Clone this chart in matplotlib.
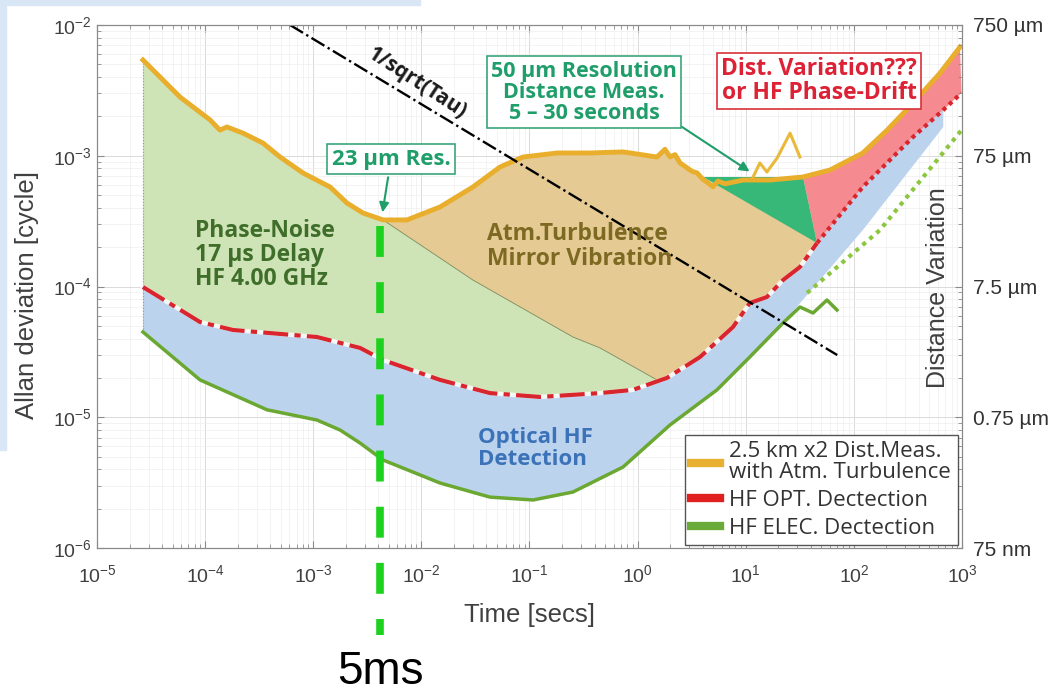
import numpy as np
import matplotlib
matplotlib.use("Agg")
import matplotlib.pyplot as plt
from matplotlib.lines import Line2D
from matplotlib.patches import Rectangle

plt.rcParams['font.family'] = ['Liberation Sans', 'DejaVu Sans']
plt.rcParams['mathtext.fontset'] = 'custom'
plt.rcParams['mathtext.rm'] = 'Liberation Sans'
plt.rcParams['mathtext.it'] = 'Liberation Sans:italic'
plt.rcParams['mathtext.bf'] = 'Liberation Sans:bold'

# 2.5 km x2 distance measurement with atmospheric turbulence (yellow)
atm_t = [2.66e-5, 4.07e-5, 5.86e-5, 8.41e-5, 1.11e-4, 1.37e-4, 1.59e-4, 2.24e-4, 3.43e-4,
         4.93e-4, 8.04e-4, 1.43e-3, 2.05e-3, 2.88e-3, 4.42e-3, 7.36e-3, 1.49e-2, 3.00e-2,
         5.33e-2, 8.71e-2, 0.180, 0.363, 0.732, 1.51, 1.79, 1.99, 2.22, 2.47, 2.74, 3.18,
         3.54, 4.02, 4.48, 4.98, 5.54, 6.43, 9.44, 16.8, 33.8, 60.2, 121, 203, 352, 626, 958]
atm_v = [5.40e-3, 3.80e-3, 2.81e-3, 2.24e-3, 1.88e-3, 1.57e-3, 1.66e-3, 1.49e-3, 1.25e-3,
         9.78e-4, 7.38e-4, 5.77e-4, 4.35e-4, 3.65e-4, 3.23e-4, 3.23e-4, 4.06e-4, 5.77e-4,
         8.20e-4, 9.78e-4, 1.05e-3, 1.05e-3, 1.07e-3, 9.78e-4, 1.12e-3, 9.80e-4, 1.02e-3,
         8.80e-4, 8.30e-4, 7.60e-4, 7.40e-4, 6.60e-4, 6.20e-4, 5.80e-4, 6.40e-4, 6.10e-4,
         6.52e-4, 6.52e-4, 6.88e-4, 7.78e-4, 1.05e-3, 1.57e-3, 2.53e-3, 4.29e-3, 6.79e-3]
# second (spiky) yellow trace
spike_t = [11.7, 13.5, 15.7, 19.5, 25.7, 31.7]
spike_v = [6.88e-4, 8.81e-4, 7.51e-4, 9.61e-4, 1.49e-3, 9.78e-4]

# HF optical detection (red)
opt_t = [2.66e-5, 8.97e-5, 1.81e-4, 1.08e-3, 2.71e-3, 4.42e-3, 1.49e-2, 4.31e-2, 0.125,
         0.449, 0.906, 1.87, 3.78, 7.62, 10.9, 15.7, 22.1, 31.7, 45.6, 121, 352, 671, 990]
opt_v = [9.91e-5, 5.35e-5, 4.65e-5, 4.11e-5, 3.39e-5, 2.74e-5, 1.93e-5, 1.53e-5, 1.43e-5,
         1.53e-5, 1.62e-5, 2.00e-5, 2.89e-5, 4.90e-5, 7.48e-5, 8.31e-5, 1.12e-4, 1.41e-4,
         2.15e-4, 5.77e-4, 1.39e-3, 2.24e-3, 3.02e-3]

# HF electrical detection (green)
elec_t = [2.66e-5, 8.97e-5, 3.74e-4, 1.08e-3, 1.77e-3, 2.71e-3, 4.42e-3, 1.49e-2, 4.31e-2,
          0.108, 0.252, 0.732, 1.99, 5.42, 10.9, 22.1, 31.7, 41.9, 56.4, 69.8]
elec_v = [4.49e-5, 1.93e-5, 1.14e-5, 9.53e-6, 7.99e-6, 6.35e-6, 4.71e-6, 3.14e-6, 2.45e-6,
          2.33e-6, 2.68e-6, 4.16e-6, 8.72e-6, 1.62e-5, 2.89e-5, 5.26e-5, 6.97e-5, 6.27e-5,
          7.88e-5, 6.61e-5]
elec_fit_t = [36.9, 174, 990]
elec_fit_v = [8.92e-5, 2.70e-4, 1.57e-3]

# lower edge of the blue band after the green curve ends
blue_edge_t = [22.1, 121, 671]
blue_edge_v = [5.26e-5, 2.70e-4, 1.66e-3]

# phase-noise extrapolation (green / tan boundary)
noise_t = [4.42e-3, 3.00e-2, 0.252, 0.449, 1.51]
noise_v = [3.23e-4, 1.12e-4, 4.11e-5, 3.39e-5, 1.93e-5]

# 50 um resolution wedge
tri_t = [4.02, 33.8, 45.6]
tri_v = [6.88e-4, 6.88e-4, 2.15e-4]

# 1/sqrt(Tau) reference
sqrt_t = [6.10e-4, 70.2]
sqrt_v = [1e-2, 2.99e-5]

# 5 ms marker
mark_t = [4.15e-3, 4.15e-3]
mark_v = [2.9e-4, 2.16e-7]

right_ticks = [1e-6, 1e-5, 1e-4, 1e-3, 1e-2]
right_labels = ['75 nm', '0.75 µm', '7.5 µm', '75 µm', '750 µm']

at, av = np.array(atm_t), np.array(atm_v)
ot, ov = np.array(opt_t), np.array(opt_v)
et, ev = np.array(elec_t), np.array(elec_v)
nt, nv = np.array(noise_t), np.array(noise_v)
bt, bv = np.array(blue_edge_t), np.array(blue_edge_v)

fig = plt.figure(figsize=(10.56, 6.97), dpi=100)
fig.patches.append(Rectangle((0, 1 - 450 / 697), 6 / 1056, 450 / 697, transform=fig.transFigure,
                             color='#d8e6f5', zorder=0))
fig.patches.append(Rectangle((0, 1 - 5 / 697), 420 / 1056, 5 / 697, transform=fig.transFigure,
                             color='#d8e6f5', zorder=0))

ax = fig.add_axes([97 / 1056, 1 - 548 / 697, 865 / 1056, 523 / 697])
ax.set_xscale('log')
ax.set_yscale('log')
ax.set_xlim(1e-5, 1e3)
ax.set_ylim(1e-6, 1e-2)
ax.set_axisbelow(True)
ax.grid(True, which='major', color='#dadada', lw=0.7)
ax.grid(True, which='minor', color='#eeeeee', lw=0.5)

# blue: optical HF detection band
m = ot <= 671
px = np.concatenate([ot[m], bt[::-1], et[et < 22][::-1]])
py = np.concatenate([ov[m], bv[::-1], ev[et < 22][::-1]])
ax.fill(px, py, color='#bcd3ee', lw=0, zorder=1)

# green: phase noise
px = np.concatenate([at[at <= 4.42e-3], nt[1:], ot[ot < 1.0][::-1]])
py = np.concatenate([av[at <= 4.42e-3], nv[1:], ov[ot < 1.0][::-1]])
ax.fill(px, py, color='#cee3b6', lw=0, zorder=1)

# tan: atmospheric turbulence
ma = (at >= 4.42e-3) & (at <= 33.8)
mo = (ot >= 1.8) & (ot <= 45.6)
px = np.concatenate([at[ma], ot[mo][::-1], nt[::-1]])
py = np.concatenate([av[ma], ov[mo][::-1], nv[::-1]])
ax.fill(px, py, color='#e5ca94', lw=0, zorder=1)

# pink: distance variation / phase drift
px = np.concatenate([at[at >= 33.8], ot[ot >= 45.6][::-1]])
py = np.concatenate([av[at >= 33.8], ov[ot >= 45.6][::-1]])
ax.fill(px, py, color='#f58b90', lw=0, zorder=1)

ax.fill(tri_t, tri_v, color='#38b878', lw=0, zorder=2)
ax.plot(noise_t, noise_v, color='#7b8a5a', lw=0.6, zorder=2)
ax.plot([et[0], et[0]], [ev[0], av[0]], ':', color='#999999', lw=0.8, zorder=2)

# red curve: dashed then dotted
md = ot <= 45.6
ax.plot(ot[md], ov[md], color='white', lw=3.2, alpha=0.8, zorder=3)
ax.plot(ot[md], ov[md], color='#d9262e', lw=3, dashes=(6, 1.5, 1.5, 1.5), zorder=3)
mr = ot >= 45.6
ax.plot(ot[mr], ov[mr], color='#d9262e', lw=3, dashes=(1, 1), zorder=3)

ax.plot(elec_t, elec_v, color='#6aa832', lw=2.5, zorder=3)
ax.plot(elec_fit_t, elec_fit_v, color='#8cc63f', lw=3, dashes=(1, 1.2), zorder=3)

ax.plot(atm_t, atm_v, color='#e9ae2b', lw=3.5, zorder=4)
ax.plot(spike_t, spike_v, color='#e9b93a', lw=2.2, zorder=4)

ax.plot(sqrt_t, sqrt_v, color='black', lw=1.7, ls='-.', zorder=5)
ax.plot(mark_t, mark_v, color='#1fd11f', lw=5.5, dashes=(4.05, 3.3), clip_on=False, zorder=6)

# annotations
teal = '#1f9e6a'
bold = dict(family='Open Sans', fontweight='bold')
ax.annotate('23 µm Res.', xy=(4.33e-3, 3.52e-4), xytext=(5.24e-3, 9.44e-4),
            ha='center', va='center', fontsize=16, color=teal, zorder=7,
            bbox=dict(boxstyle='square,pad=0.2', fc='white', ec='#3aa67a', lw=1.2),
            arrowprops=dict(arrowstyle='-|>', color=teal, lw=1.5, mutation_scale=14),
            **bold)
ax.annotate('50 µm Resolution\nDistance Meas.\n5 – 30 seconds', xy=(11.4, 7.38e-4),
            xytext=(0.319, 3.07e-3), ha='center', va='center', fontsize=15.5,
            color=teal, linespacing=1.0, zorder=7,
            bbox=dict(boxstyle='square,pad=0.2', fc='white', ec='#3aa67a', lw=1.2),
            arrowprops=dict(arrowstyle='-|>', color=teal, lw=1.5, mutation_scale=14,
                            relpos=(1, 0), shrinkA=0),
            **bold)
ax.text(47.6, 3.73e-3, 'Dist. Variation???\nor HF Phase-Drift', ha='center', va='center',
        fontsize=16.5, color='#dd2236', linespacing=0.95, zorder=7,
        bbox=dict(boxstyle='square,pad=0.2', fc='white', ec='#d8303a', lw=1.2), **bold)
ax.text(0.113, 0.560, 'Phase-Noise\n17 µs Delay\nHF 4.00 GHz', transform=ax.transAxes,
        ha='left', va='center', fontsize=16.5, color='#3f6e2a', linespacing=1.0, zorder=7,
        **bold)
ax.text(0.451, 0.576, 'Atm.Turbulence\nMirror Vibration', transform=ax.transAxes,
        ha='left', va='center', fontsize=16.5, color='#7d6a22', linespacing=1.05, zorder=7,
        **bold)
ax.text(0.440, 0.191, 'Optical HF\nDetection', transform=ax.transAxes,
        ha='left', va='center', fontsize=16, color='#3b72b8', linespacing=1.05, zorder=7,
        **bold)
ax.text(0.370, 0.889, '1/sqrt(Tau)', transform=ax.transAxes, ha='center', va='center',
        rotation=-33, fontsize=15, color='#1a1a1a', zorder=7, **bold)

for s in ax.spines.values():
    s.set_color('#8a8a8a')
ax.tick_params(which='both', direction='in', top=True, right=False, color='#8a8a8a',
               labelcolor='#404040', labelsize=14)
ax.tick_params(axis='x', pad=12)
ax.tick_params(which='major', length=5)
ax.tick_params(which='minor', length=3)

ax2 = ax.twinx()
ax2.set_yscale('log')
ax2.set_ylim(1e-6, 1e-2)
ax2.set_yticks(right_ticks)
ax2.set_yticklabels(right_labels)
for s in ax2.spines.values():
    s.set_color('#8a8a8a')
ax2.tick_params(which='both', direction='in', color='#8a8a8a', labelcolor='#333333',
                labelsize=15, pad=8)
ax2.tick_params(which='major', length=5)
ax2.tick_params(which='minor', length=3)

handles = [Line2D([0], [0], color='#e8b030', lw=6),
           Line2D([0], [0], color='#e0201e', lw=6),
           Line2D([0], [0], color='#6aaa38', lw=6)]
labels = ['2.5 km x2 Dist.Meas.\nwith Atm. Turbulence', 'HF OPT. Dectection',
          'HF ELEC. Dectection']
leg = ax2.legend(handles, labels, loc='lower right', bbox_to_anchor=(0.995, 0.005),
                 prop={'family': 'Open Sans', 'size': 16}, handlelength=1.3,
                 handletextpad=0.4, borderpad=0.3, labelspacing=0.3, fancybox=False,
                 framealpha=1, edgecolor='#555555', borderaxespad=0)
leg.get_frame().set_linewidth(1)
for txt in leg.get_texts():
    txt.set_color('#333333')
    txt.set_linespacing(1.0)

fig.text(27 / 1056, 1 - 295 / 697, 'Allan deviation [cycle]', rotation=90, ha='center',
         va='center', fontsize=18.5, color='#404040')
fig.text(530 / 1056, 1 - 615 / 697, 'Time [secs]', ha='center', va='center', fontsize=18.5,
         color='#404040')
fig.text(938 / 1056, 1 - 288 / 697, 'Distance Variation', rotation=90, ha='center',
         va='center', fontsize=18, color='#404040')
fig.text(380 / 1056, 1 - 672 / 697, '5ms', ha='center', va='center', fontsize=33,
         color='black')

fig.savefig('out.png', dpi=100)
